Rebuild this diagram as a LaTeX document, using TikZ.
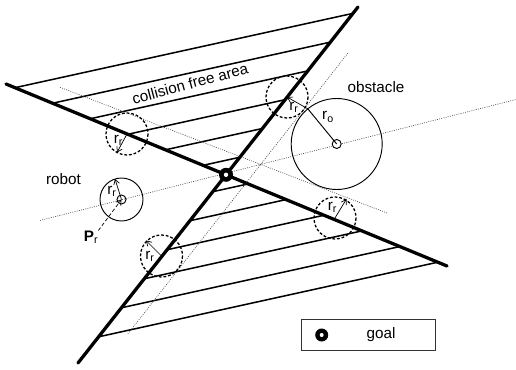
\documentclass[tikz,border=0pt]{standalone}
\usepackage{fontspec}
\setmainfont{Liberation Sans}
\usetikzlibrary{arrows.meta, calc, intersections}

\newcommand{\rsub}[1]{r\textsubscript{#1}}

\begin{document}
\begin{tikzpicture}[
    x=0.3mm, y=-0.3mm,
    font=\fontsize{13}{15}\selectfont,
    cone/.style={line width=2.8pt, line cap=round},
    hatch/.style={line width=1.3pt},
    guide/.style={line width=0.5pt, draw=black!75, dash pattern=on 0.8pt off 1.1pt},
    rcircle/.style={line width=1.1pt, dash pattern=on 2.4pt off 1.6pt},
    body/.style={line width=0.8pt},
    rarrow/.style={-{Straight Barb[length=4pt, width=5pt]}, line width=0.6pt},
    lbl/.style={inner sep=0pt},
]
\useasboundingbox (0,0) rectangle (516,370);

% Cone borders
\coordinate (a1) at (6,84);
\coordinate (a2) at (447,266);
\coordinate (b1) at (358,7);
\coordinate (b2) at (78,363);
\path[name path=lineA] (a1) -- (a2);
\path[name path=lineB] (b1) -- (b2);
\path[name intersections={of=lineA and lineB, by=goal}];

% Hatching of the collision free area
\foreach \c in {91,114.8,138.6,162.4,186.2,210,238.5,262.5,286.5,310.5,334.5,358.5} {
    \path[name path=hline] (0,\c) -- (516,\c-113.5);
    \path[name intersections={of=hline and lineA, by=ha}];
    \path[name intersections={of=hline and lineB, by=hb}];
    \draw[hatch] (ha) -- (hb);
}

\draw[cone] (a1) -- (a2);
\draw[cone] (b1) -- (b2);

% Dotted guide lines
\coordinate (axisL) at (40,220.5);
\coordinate (axisR) at (516,99.5);
\coordinate (tA1) at (60,87.3);
\coordinate (tA2) at (387,213);
\coordinate (tB1) at (348,53);
\coordinate (tB2) at (127,335);
\draw[guide] (axisL) -- (axisR);
\draw[guide] (tA1) -- (tA2);
\draw[guide] (tB1) -- (tB2);

% Obstacle
\coordinate (obst) at (336.7,144);
\coordinate (otouch) at (307.8,108.8);
\draw[body] (obst) circle (45.5);
\draw[body, fill=white] (obst) circle (4.5);
\draw[body] (obst) -- (otouch);
\node[lbl] (obstlbl) at (376,87.5) {obstacle};
\node[lbl] (rolbl) at (328,117) {r\textsubscript{o}};

% Robot
\coordinate (robot) at (121.5,199.5);
\coordinate (rrim) at (115,179);
\draw[body] (robot) circle (21.5);
\draw[body] (robot) circle (4.5);
\draw[rarrow] (robot) -- (rrim);
\node[lbl] (robotlbl) at (63.5,179) {robot};
\node[lbl] (rrobot) at (112,191) {\rsub{r}};
\node[lbl] (prlbl) at (91,237) {\textbf{P}\textsubscript{r}};
\draw[rarrow, dash pattern=on 3pt off 2pt] (prlbl.north east) -- (robot);

% Robot sized circles on the cone borders
\coordinate (c1) at (127,134);
\coordinate (c1rim) at (117,152.5);
\coordinate (c2) at (287,97);
\coordinate (c3) at (335,218);
\coordinate (c3rim) at (346.5,199);
\coordinate (c4) at (161.5,256);
\coordinate (c4rim) at (146,240.5);
\foreach \p in {c1,c2,c3,c4}
    \draw[rcircle] (\p) circle (21);
\draw[rarrow] (c1) -- (c1rim);
\draw[rarrow] (otouch) -- (c2);
\draw[rarrow] (c3) -- (c3rim);
\draw[rarrow] (c4) -- (c4rim);
\node[lbl] (r1) at (118.5,140) {\rsub{r}};
\node[lbl] (r2) at (294,107) {\rsub{r}};
\node[lbl] (r3) at (332.5,207.5) {\rsub{r}};
\node[lbl] (r4) at (150,256.5) {\rsub{r}};

% Collision free area
\node[lbl, rotate=15] (freelbl) at (190,83.5) {collision free area};

% Goal
\fill (goal) circle (7);
\fill[white] (goal) circle (2.2);

% Legend
\draw[line width=0.8pt, draw=black!80] (301,319) rectangle (435,350);
\coordinate (legmark) at (321.7,335);
\fill (legmark) circle (6.5);
\fill[white] (legmark) circle (2);
\node[lbl] (goallbl) at (381,335) {goal};

\end{tikzpicture}
\end{document}
